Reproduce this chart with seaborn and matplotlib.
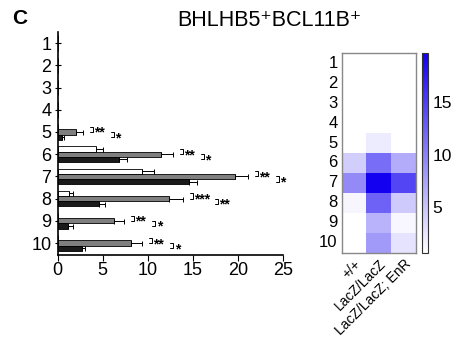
import numpy as np
import pandas as pd
import matplotlib
matplotlib.use("Agg")
import matplotlib.pyplot as plt
from matplotlib.colors import LinearSegmentedColormap
import seaborn as sns

# ---- data ----
rows = ["1", "2", "3", "4", "5", "6", "7", "8", "9", "10"]
genotypes = ["+/+", "LacZ/LacZ", "LacZ/LacZ; EnR"]
wt_mean = [0.0, 0.0, 0.0, 0.0, 0.1, 4.3, 9.4, 1.3, 0.1, 0.0]
wt_err = [0.0, 0.0, 0.0, 0.0, 0.0, 0.7, 1.3, 0.4, 0.0, 0.0]
lacz_mean = [0.0, 0.0, 0.0, 0.0, 2.1, 11.5, 19.7, 12.4, 6.3, 8.2]
lacz_err = [0.0, 0.0, 0.0, 0.0, 0.7, 1.3, 1.4, 1.5, 1.1, 1.2]
enr_mean = [0.0, 0.0, 0.0, 0.0, 0.5, 6.8, 14.6, 4.6, 1.2, 2.7]
enr_err = [0.0, 0.0, 0.0, 0.0, 0.2, 0.9, 0.9, 0.7, 0.5, 0.4]
sig_wt_vs_lacz = ["", "", "", "", "**", "**", "**", "***", "**", "**"]
sig_lacz_vs_enr = ["", "", "", "", "*", "*", "*", "**", "*", "*"]
xticks = [0, 5, 10, 15, 20, 25]
cbar_ticks = [5, 10, 15]
title = "BHLHB5\u207aBCL11B\u207a"
panel = "C"

sns.set_theme(style="ticks")
plt.rcParams["font.family"] = ["Liberation Sans", "DejaVu Sans"]
for k in ["text.color", "axes.labelcolor", "xtick.color", "ytick.color",
          "axes.edgecolor"]:
    plt.rcParams[k] = "black"

fig = plt.figure(figsize=(4.62, 3.37), dpi=100)
ax = fig.add_axes([0.1245, 0.2433, 0.4881, 0.6617])
hax = fig.add_axes([0.7396, 0.250, 0.1602, 0.592])
cax = fig.add_axes([0.9128, 0.250, 0.0143, 0.592])

means = [wt_mean, lacz_mean, enr_mean]
errs = [wt_err, lacz_err, enr_err]
df = pd.DataFrame({
    "row": rows * 3,
    "genotype": np.repeat(genotypes, len(rows)),
    "value": wt_mean + lacz_mean + enr_mean,
})
colors = ["#ffffff", "#7f7f7f", "#1a1a1a"]
sns.barplot(data=df, x="value", y="row", hue="genotype", order=rows,
            hue_order=genotypes, palette=colors, edgecolor="black",
            linewidth=0.6, errorbar=None, width=0.7, orient="h",
            legend=False, ax=ax)

for cont, m, e in zip(ax.containers, means, errs):
    for bar, val, er in zip(cont, m, e):
        if er > 0:
            yc = bar.get_y() + bar.get_height() / 2
            ax.errorbar(bar.get_width(), yc, xerr=[[0], [er]], fmt="none",
                        ecolor="black", elinewidth=0.7, capsize=1.8,
                        capthick=0.7)

# significance brackets
gray_bars = list(ax.containers[1])
wt_bars = list(ax.containers[0])
enr_bars = list(ax.containers[2])
for i in range(len(rows)):
    if not sig_wt_vs_lacz[i]:
        continue
    yw = wt_bars[i].get_y() + wt_bars[i].get_height() / 2
    yg = gray_bars[i].get_y() + gray_bars[i].get_height() / 2
    yb = enr_bars[i].get_y() + enr_bars[i].get_height() / 2
    x1 = lacz_mean[i] + lacz_err[i] + 0.75
    w = 0.33
    ax.plot([x1, x1 + w, x1 + w, x1], [yw, yw, yg, yg], color="black",
            lw=0.7, clip_on=False)
    ax.text(x1 + w + 0.15, (yw + yg) / 2 + 0.16, sig_wt_vs_lacz[i],
            fontsize=10, fontweight="bold", va="center", ha="left",
            clip_on=False)
    x2 = x1 + (2.8 if len(sig_wt_vs_lacz[i]) == 3 else 2.35)
    ax.plot([x2, x2 + w, x2 + w, x2], [yg, yg, yb, yb], color="black",
            lw=0.7, clip_on=False)
    ax.text(x2 + w + 0.15, (yg + yb) / 2 + 0.16, sig_lacz_vs_enr[i],
            fontsize=10, fontweight="bold", va="center", ha="left",
            clip_on=False)

ax.set_xlim(0, 25)
ax.set_ylim(9.54, -0.5)
ax.set_xticks(xticks)
ax.set_xticklabels([str(t) for t in xticks], fontsize=13)
ax.set_yticklabels(rows, fontsize=13)
ax.set_xlabel("")
ax.set_ylabel("")
sns.despine(ax=ax)
for s in ["left", "bottom"]:
    ax.spines[s].set_linewidth(1.2)
    ax.spines[s].set_color("black")
ax.tick_params(axis="y", direction="inout", length=5, width=0.8, pad=2)
ax.tick_params(axis="x", direction="out", length=4, width=0.8, pad=1)

# heatmap
heat = pd.DataFrame(np.array(means).T, index=rows, columns=genotypes)
cmap = LinearSegmentedColormap.from_list("wb", ["#ffffff", "#1400f0"])
sns.heatmap(heat, cmap=cmap, vmin=0.6, vmax=19.7, ax=hax, cbar_ax=cax,
            xticklabels=genotypes, yticklabels=rows)
for s in hax.spines.values():
    s.set_visible(True)
    s.set_color("#888888")
    s.set_linewidth(1.0)
hax.tick_params(axis="both", length=0, pad=3)
hax.set_yticklabels(rows, rotation=0, fontsize=12)
hax.set_xticklabels(genotypes, rotation=45, ha="right", rotation_mode="anchor",
                    fontsize=10)
hax.set_xlabel("")
hax.set_ylabel("")

cax.set_yticks(cbar_ticks)
cax.set_yticklabels([str(t) for t in cbar_ticks], fontsize=12.5)
cax.tick_params(axis="y", direction="in", length=3, width=0.8, pad=3)
cb = hax.collections[0].colorbar
cb.outline.set_edgecolor("#333333")
cb.outline.set_linewidth(0.8)

fig.text(0.584, 0.94, title, fontsize=15.5, ha="center", va="center")
fig.text(0.043, 0.945, panel, fontsize=15, fontweight="bold", ha="center",
         va="center")

fig.savefig("out.png", dpi=100)
